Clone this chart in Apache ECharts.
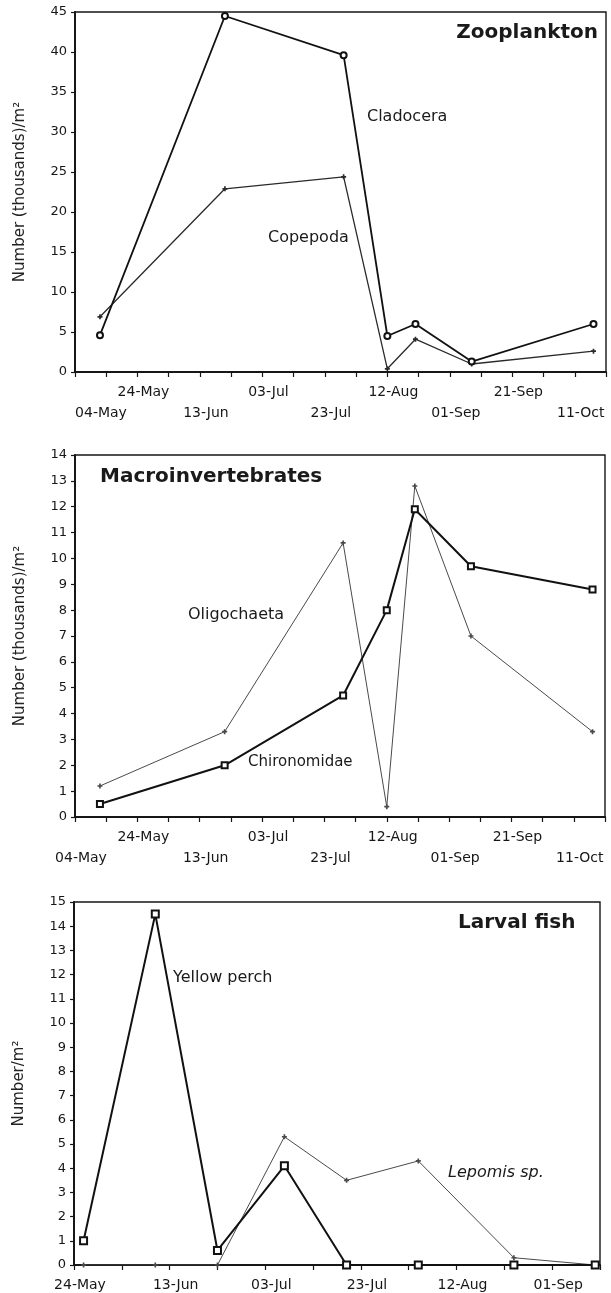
<!DOCTYPE html>
<html>
<head>
<meta charset="utf-8">
<script src="https://cdn.jsdelivr.net/npm/echarts@6/dist/echarts.min.js"></script>
<style>
  html, body { margin: 0; padding: 0; background: #fff; }
  #chart { width: 611px; height: 1293px; }
</style>
</head>
<body>
<div id="chart"></div>
<script>
const MONTHS = ['Jan','Feb','Mar','Apr','May','Jun','Jul','Aug','Sep','Oct','Nov','Dec'];

// Zooplankton densities, thousands per m2
const zooDates  = ['12-May','21-Jun','29-Jul','12-Aug','21-Aug','08-Sep','17-Oct'];
const cladocera = [4.6, 44.5, 39.6, 4.5, 6.0, 1.3, 6.0];
const copepoda  = [6.9, 22.9, 24.4, 0.4, 4.1, 1.0, 2.6];

// Benthic macroinvertebrate densities, thousands per m2
const benthosDates = ['12-May','21-Jun','29-Jul','12-Aug','21-Aug','08-Sep','17-Oct'];
const oligochaeta  = [1.2, 3.3, 10.6, 0.4, 12.8, 7.0, 3.3];
const chironomidae = [0.5, 2.0, 4.7, 8.0, 11.9, 9.7, 8.8];

// Larval fish densities, number per m2
const fishDates   = ['26-May','10-Jun','23-Jun','07-Jul','20-Jul','04-Aug','24-Aug','10-Sep'];
const yellowPerch = [1.0, 14.5, 0.6, 4.1, 0, 0, 0, 0];
const lepomis     = [0, 0, 0, 5.3, 3.5, 4.3, 0.3, 0];

// Date axes: first day and length in days
const zooAxisStart  = '04-May';
const zooAxisDays   = 170;
const fishAxisStart = '24-May';
const fishAxisDays  = 110;

const FONT = 'DejaVu Sans';
const INK = '#161616';

function dayNumber(s) {
  const [d, m] = s.split('-');
  return Date.UTC(2001, MONTHS.indexOf(m), +d) / 86400000;
}
function dayLabel(n) {
  const dt = new Date(n * 86400000);
  return String(dt.getUTCDate()).padStart(2, '0') + '-' + MONTHS[dt.getUTCMonth()];
}
function pairs(dates, values, start) {
  const s0 = dayNumber(start);
  return dates.map((d, i) => [dayNumber(d) - s0, values[i]]);
}

function xAxisFor(gridIndex, start, span, staggered, shiftFirst) {
  const s0 = dayNumber(start);
  const txt = { fontFamily: FONT, fontSize: 14, color: INK };
  return {
    type: 'value', gridIndex, min: 0, max: span, interval: 10,
    axisLine: { show: true, onZero: false, lineStyle: { color: INK, width: 2 } },
    axisTick: { show: true, length: 5, lineStyle: { color: INK, width: 1.2 } },
    splitLine: { show: false },
    axisLabel: {
      show: true, margin: 13, hideOverlap: false, showMinLabel: true, showMaxLabel: true,
      fontFamily: FONT, fontSize: 14, color: INK,
      formatter: (v) => {
        if (v % 20 !== 0) return '';
        const t = dayLabel(s0 + v);
        if (!staggered || (v / 20) % 2 === 1) return '{a|' + t + '}';
        if (v === 0 && shiftFirst) return '{c|' + t + '}';
        return '{b|' + t + '}';
      },
      rich: {
        a: Object.assign({ padding: [0, 0, 0, 12] }, txt),
        b: Object.assign({ padding: [21, 0, 0, 12] }, txt),
        c: Object.assign({ padding: [21, 0, 0, 52] }, txt)
      }
    }
  };
}

function yAxisFor(gridIndex, max, step, name) {
  return {
    type: 'value', gridIndex, min: 0, max, interval: step,
    name, nameLocation: 'middle', nameRotate: 90, nameGap: 47,
    nameTextStyle: { fontFamily: FONT, fontSize: 15, color: '#222' },
    axisLine: { show: true, onZero: false, lineStyle: { color: INK, width: 2 } },
    axisTick: { show: true, length: 4, lineStyle: { color: INK, width: 1.2 } },
    splitLine: { show: false },
    axisLabel: { margin: 8, fontFamily: FONT, fontSize: 13, color: INK }
  };
}

const PLUS = 'path://M2,0h2v2h2v2h-2v2h-2v-2h-2v-2h2z';

function line(name, axis, data, opts) {
  return Object.assign({
    name, type: 'line', xAxisIndex: axis, yAxisIndex: axis, data,
    animation: false, silent: true
  }, opts);
}
function thick(color, width, symbol, size) {
  return {
    symbol, symbolSize: size, z: 4,
    lineStyle: { color, width },
    itemStyle: { color, borderColor: color, borderWidth: 1.3 }
  };
}
function thin(color, width) {
  return {
    symbol: PLUS, symbolSize: 5, z: 3,
    lineStyle: { color, width },
    itemStyle: { color }
  };
}

function label(text, x, y, font, align) {
  return {
    type: 'text', x, y, silent: true, z: 10,
    style: { text, font, fill: '#1a1a1a', align: align || 'left', verticalAlign: 'middle' }
  };
}

const gridBase = { show: true, borderColor: INK, borderWidth: 1.4, backgroundColor: 'transparent', containLabel: false, outerBoundsMode: 'none' };

const option = {
  backgroundColor: '#fff',
  animation: false,
  grid: [
    Object.assign({ left: 75, top: 12, width: 531, height: 360 }, gridBase),
    Object.assign({ left: 75, top: 455, width: 530, height: 362 }, gridBase),
    Object.assign({ left: 74, top: 902, width: 526, height: 363 }, gridBase)
  ],
  xAxis: [
    xAxisFor(0, zooAxisStart, zooAxisDays, true, true),
    xAxisFor(1, zooAxisStart, zooAxisDays, true, false),
    xAxisFor(2, fishAxisStart, fishAxisDays, false, false)
  ],
  yAxis: [
    yAxisFor(0, 45, 5, 'Number (thousands)/m²'),
    yAxisFor(1, 14, 1, 'Number (thousands)/m²'),
    yAxisFor(2, 15, 1, 'Number/m²')
  ],
  series: [
    line('Cladocera', 0, pairs(zooDates, cladocera, zooAxisStart), thick('#111', 1.8, 'emptyCircle', 6)),
    line('Copepoda', 0, pairs(zooDates, copepoda, zooAxisStart), thin('#2a2a2a', 1.3)),
    line('Chironomidae', 1, pairs(benthosDates, chironomidae, zooAxisStart), thick('#111', 2, 'emptyRect', 6)),
    line('Oligochaeta', 1, pairs(benthosDates, oligochaeta, zooAxisStart), thin('#4a4a4a', 1)),
    line('Yellow perch', 2, pairs(fishDates, yellowPerch, fishAxisStart), thick('#111', 2, 'emptyRect', 7)),
    line('Lepomis sp.', 2, pairs(fishDates, lepomis, fishAxisStart), thin('#4a4a4a', 1))
  ],
  graphic: [
    label('Zooplankton', 598, 33, 'bold 20px "DejaVu Sans"', 'right'),
    label('Cladocera', 367, 117, '16px "DejaVu Sans"'),
    label('Copepoda', 268, 238, '16px "DejaVu Sans"'),
    label('Macroinvertebrates', 100, 477, 'bold 20px "DejaVu Sans"'),
    label('Oligochaeta', 188, 615, '16px "DejaVu Sans"'),
    label('Chironomidae', 248, 762, '15px "DejaVu Sans"'),
    label('Larval fish', 458, 923, 'bold 20px "DejaVu Sans"'),
    label('Yellow perch', 173, 978, '16px "DejaVu Sans"'),
    label('Lepomis sp.', 448, 1173, 'italic 16px "DejaVu Sans"')
  ]
};

const chart = echarts.init(document.getElementById('chart'), null, { renderer: 'canvas' });
chart.setOption(option);
</script>
</body>
</html>
